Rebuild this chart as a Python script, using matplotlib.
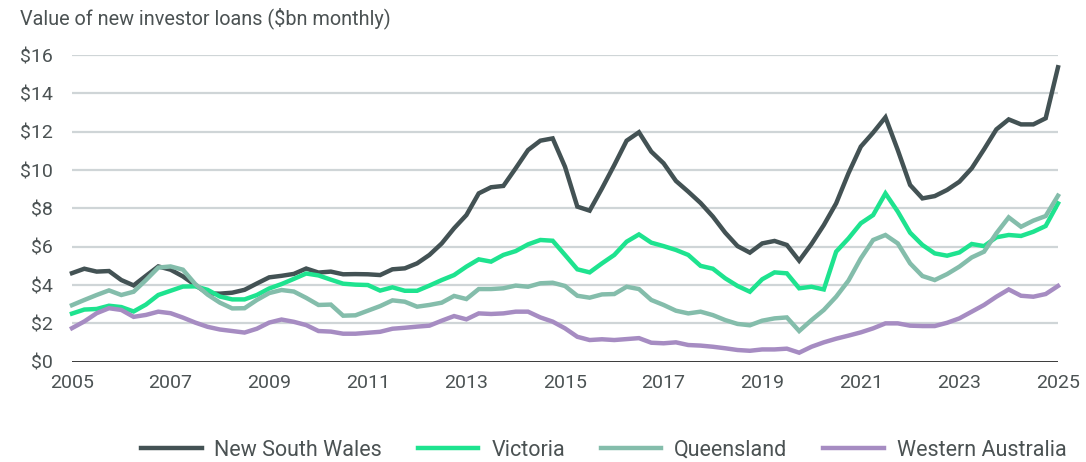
import numpy as np
import matplotlib
matplotlib.use('Agg')
import matplotlib.pyplot as plt

# quarterly, 2005 Q1 .. 2025 Q1
quarters = [2005 + i / 4 for i in range(81)]

nsw = [4.62, 4.85, 4.70, 4.73, 4.26, 3.98, 4.48, 4.97, 4.80, 4.45,
       4.00, 3.56, 3.55, 3.60, 3.75, 4.08, 4.40, 4.48, 4.58, 4.86,
       4.65, 4.70, 4.56, 4.57, 4.56, 4.52, 4.82, 4.87, 5.13, 5.57,
       6.17, 6.96, 7.65, 8.78, 9.10, 9.17, 10.09, 11.04, 11.53, 11.65,
       10.17, 8.09, 7.88, 9.04, 10.26, 11.53, 11.97, 10.96, 10.35, 9.43,
       8.87, 8.28, 7.57, 6.73, 6.03, 5.69, 6.17, 6.30, 6.09, 5.27,
       6.14, 7.13, 8.26, 9.83, 11.22, 11.95, 12.75, 11.04, 9.22, 8.52,
       8.64, 8.96, 9.39, 10.09, 11.08, 12.12, 12.64, 12.38, 12.38, 12.70,
       15.36]
vic = [2.51, 2.72, 2.75, 2.92, 2.85, 2.62, 2.98, 3.48, 3.70, 3.92,
       3.93, 3.75, 3.40, 3.25, 3.25, 3.48, 3.82, 4.05, 4.32, 4.60,
       4.50, 4.28, 4.07, 4.02, 4.00, 3.71, 3.88, 3.70, 3.70, 3.97,
       4.26, 4.52, 4.96, 5.34, 5.22, 5.57, 5.77, 6.12, 6.35, 6.31,
       5.57, 4.82, 4.66, 5.13, 5.57, 6.26, 6.64, 6.21, 6.03, 5.83,
       5.57, 5.00, 4.85, 4.35, 3.95, 3.65, 4.30, 4.66, 4.61, 3.83,
       3.91, 3.77, 5.74, 6.43, 7.22, 7.65, 8.78, 7.83, 6.73, 6.09,
       5.65, 5.53, 5.70, 6.14, 6.03, 6.49, 6.61, 6.56, 6.78, 7.08,
       8.26]
qld = [2.95, 3.22, 3.48, 3.72, 3.48, 3.65, 4.26, 4.91, 4.97, 4.80,
       4.05, 3.50, 3.08, 2.78, 2.79, 3.22, 3.58, 3.74, 3.66, 3.33,
       2.96, 2.98, 2.40, 2.42, 2.66, 2.90, 3.20, 3.13, 2.87, 2.96,
       3.08, 3.43, 3.27, 3.79, 3.79, 3.83, 3.97, 3.91, 4.09, 4.12,
       3.95, 3.44, 3.34, 3.51, 3.53, 3.91, 3.79, 3.22, 2.96, 2.66,
       2.52, 2.61, 2.43, 2.17, 1.97, 1.90, 2.14, 2.26, 2.31, 1.60,
       2.17, 2.70, 3.39, 4.23, 5.39, 6.35, 6.61, 6.17, 5.13, 4.47,
       4.26, 4.57, 4.96, 5.44, 5.74, 6.70, 7.53, 7.04, 7.36, 7.60,
       8.66]
wa = [1.75, 2.10, 2.53, 2.79, 2.70, 2.34, 2.44, 2.61, 2.53, 2.30,
      2.04, 1.82, 1.68, 1.60, 1.52, 1.72, 2.04, 2.20, 2.08, 1.91,
      1.60, 1.57, 1.46, 1.46, 1.51, 1.56, 1.72, 1.77, 1.83, 1.88,
      2.14, 2.38, 2.21, 2.52, 2.49, 2.52, 2.61, 2.61, 2.31, 2.09,
      1.74, 1.30, 1.13, 1.17, 1.13, 1.18, 1.23, 0.99, 0.96, 1.01,
      0.87, 0.84, 0.78, 0.70, 0.61, 0.57, 0.64, 0.64, 0.68, 0.47,
      0.78, 1.01, 1.20, 1.36, 1.53, 1.74, 2.00, 2.00, 1.88, 1.86,
      1.86, 2.03, 2.26, 2.61, 2.96, 3.39, 3.77, 3.44, 3.39, 3.53,
      3.95]

series = [('New South Wales', nsw, '#435254'),
          ('Victoria', vic, '#1ee38f'),
          ('Queensland', qld, '#84bdab'),
          ('Western Australia', wa, '#a68cc2')]

year_ticks = list(range(2005, 2026, 2))
y_ticks = list(range(0, 17, 2))

plt.rcParams['font.family'] = ['Roboto', 'DejaVu Sans']
TXT = '#4b5253'

fig = plt.figure(figsize=(10.86, 4.62), dpi=100)
ax = fig.add_axes([72 / 1086, 1 - 361.7 / 462, (1058 - 72) / 1086, (361.7 - 55) / 462])

for y in y_ticks[1:]:
    ax.axhline(y, color='#cfd5d7', lw=1.6, zorder=1)
ax.axhline(0, color='black', lw=1.8, zorder=1)

for name, vals, col in series:
    ax.plot(quarters, vals, color=col, lw=3.2, label=name,
            solid_joinstyle='miter', zorder=3, clip_on=False)

ax.set_xlim(2005, 2025)
ax.set_ylim(0, 16)
ax.set_xticks(year_ticks)
ax.set_xticklabels([str(y) for y in year_ticks])
ax.set_yticks(y_ticks)
ax.set_yticklabels([f'${y}' for y in y_ticks])
ax.tick_params(length=0, labelsize=14, labelcolor=TXT)
ax.tick_params(axis='y', pad=14)
ax.tick_params(axis='x', pad=9)
for s in ax.spines.values():
    s.set_visible(False)

fig.text(20 / 1086, 1 - 18 / 462, 'Value of new investor loans ($bn monthly)',
         fontsize=14.3, color=TXT, va='center', ha='left')

fig.legend(loc='center', bbox_to_anchor=(0.556, 1 - 450 / 462), ncol=4,
           frameon=False, fontsize=15.5, handlelength=2.8, handletextpad=0.6,
           columnspacing=1.67, labelcolor=TXT)

fig.savefig('out.png', dpi=100)
